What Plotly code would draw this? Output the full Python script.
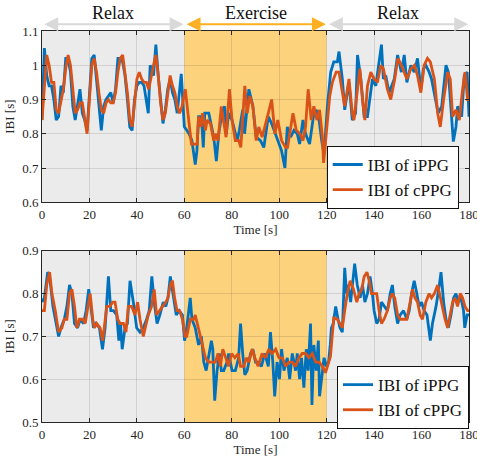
import plotly.graph_objects as go
from plotly.subplots import make_subplots

# ---------------- data ----------------
top_cppg_t = [0,1,2,3,4,5,6,7,8,9,10,11,12,13,14,15,16,17,18,19,20,21,22,23,24,25,26,27,28,29,30,
              31,32,33,34,35,36,37,38,39,40,41,42,43,44,45,46,47,48,49,50,51,52,53,54,55,56,57,58,59,60,
              60.4,62.5,63,65.4,66,67,67.7,68.9,69.6,71,72.4,73.1,74.2,75.6,76.6,77.6,79,80.1,81.5,83,83.8,
              84.4,85.5,86.5,87.6,88.9,90.3,91.4,92.8,95.4,96.8,98.2,99.4,101,102.7,103.5,104.4,105.8,107.2,
              108.7,110,111.1,112.2,113.5,114.6,115.9,117,118.2,118.7,120.4,121.3,122.4,124,125.2,126.6,127.6,
              129.4,130.8,131.5,133,134,135.1,136.1,137.2,138.6,140,141.4,142.8,143.9,145.6,147,148.7,150,
              151.5,152.7,153.8,155.5,157,158.3,159.7,161.1,162.5,163.7,165.4,166.8,167.9,169.3,171,172.1,
              173.1,174.5,175.9,177.3,178.3,179.4,180]
top_cppg_v = [0.84,0.95,1.03,1.00,0.95,0.95,0.87,0.86,0.90,0.93,0.99,1.03,1.00,0.93,0.86,0.87,0.89,0.89,0.85,0.80,0.90,
              1.00,1.02,0.98,0.92,0.87,0.86,0.89,0.90,0.89,0.89,0.92,0.98,1.02,1.03,0.98,0.92,0.84,0.82,0.89,0.96,
              0.98,0.96,0.95,0.95,0.93,0.97,1.00,1.03,0.97,0.89,0.84,0.86,0.92,0.97,0.94,0.92,0.88,0.86,0.88,0.92,
              0.93,0.80,0.77,0.77,0.85,0.82,0.86,0.81,0.84,0.83,0.78,0.80,0.78,0.88,0.84,0.79,0.93,0.84,0.78,0.78,0.76,
              0.83,0.94,0.86,0.91,0.88,0.78,0.82,0.79,0.86,0.90,0.80,0.84,0.78,0.76,0.76,0.80,0.86,0.81,
              0.80,0.78,0.82,0.93,0.84,0.88,0.84,0.87,0.79,0.715,0.86,0.91,0.95,0.98,0.98,0.92,0.88,
              0.96,0.86,0.84,0.94,0.99,0.90,0.84,0.94,0.98,0.96,0.95,1.00,0.99,0.93,0.90,0.96,1.02,
              1.00,0.98,0.96,0.99,1.00,0.97,0.92,1.00,1.02,1.01,0.96,0.86,0.82,0.90,0.98,0.96,
              0.85,0.87,0.84,0.93,0.98,0.90,0.90]

top_ippg_t = [0,1,2,3,4,5,6,7,8,9,10,11,12,13,14,15,16,17,18,19,20,21,22,23,24,25,26,27,28,29,30,
              31,32,33,34,35,36,37,38,39,40,41,42,43,44.8,45.6,47,48,49,50,51,52,53,54,55,56,57,58.7,59.5,60,
              62,63.2,64.6,65.3,66,67.2,68,68.6,70.3,71.4,72.4,73.5,74.5,75.9,77,77.7,78.7,80.1,81.5,82.3,83.2,
              84.6,85.4,87.2,87.9,88.9,90.3,92.1,93.5,95.4,96.8,98.5,101,102.4,103.4,104.8,106.2,107.6,108.6,
              110,111.1,112.8,114.6,115.6,116.8,117.9,118.9,120.3,121.7,123,124.5,125.2,126.6,127.6,129.4,
              130.8,132.2,133,134.4,135.8,137.2,139.3,140.7,143.1,143.9,144.9,146.3,148.5,149.9,151.5,152.7,
              153.8,155.5,156.9,158.3,159.7,160.8,161.8,163.2,164.2,165.8,167,168.5,170.3,171.3,173.4,174.5,
              175.2,176.9,178,179.2,180]
top_ippg_v = [0.84,1.05,0.97,0.94,0.94,0.90,0.84,0.85,0.94,0.92,1.02,1.02,0.98,0.88,0.84,0.88,0.93,0.86,0.84,0.81,0.93,
              1.02,1.03,0.96,0.90,0.81,0.88,0.90,0.91,0.92,0.89,0.93,1.02,1.02,1.01,0.97,0.90,0.82,0.81,0.90,0.94,
              0.95,0.95,0.94,0.86,1.00,0.97,1.06,0.97,0.90,0.83,0.87,0.93,0.96,0.92,0.90,0.86,0.975,0.86,0.82,
              0.80,0.78,0.71,0.75,0.85,0.85,0.76,0.86,0.86,0.82,0.79,0.72,0.80,0.86,0.88,0.80,0.86,0.84,0.80,0.78,0.81,
              0.87,0.80,0.93,0.91,0.88,0.79,0.78,0.76,0.85,0.83,0.80,0.75,0.70,0.82,0.79,0.81,0.80,0.77,
              0.84,0.80,0.77,0.86,0.87,0.84,0.78,0.74,0.88,0.98,1.01,1.01,1.04,0.96,0.87,0.95,
              0.84,0.86,1.03,0.96,0.85,0.85,0.96,0.94,1.06,0.96,0.97,0.92,0.96,1.03,0.98,1.03,
              0.95,1.00,0.98,1.02,0.93,0.99,1.00,0.98,0.96,0.90,0.86,0.88,1.00,0.98,0.777,0.82,
              0.88,0.85,0.97,0.98,0.85]

bot_cppg_t = [0,1,2,3.2,4.2,5.6,7,8.4,9.4,10.5,11.6,12.6,13.7,14.7,15.8,17.2,18.2,19.6,20.3,21.4,22.1,23.1,24.5,
              25.6,26.6,27.3,28.7,29.8,30.8,31.9,32.9,34.3,35.4,36.4,37.8,39.2,40.3,41.3,42.7,43.8,44.8,46.2,
              47.3,48.3,49.4,50.8,52.2,53.1,54.1,55,55.9,56.9,58,59.2,60.3,61,62.5,63.9,64.6,65.8,66.8,67.7,
              68.9,70.3,71.7,73.1,74.2,75.2,76.2,77.3,78.7,79.9,81.3,82.7,83.7,85.1,86.1,87.2,88.6,89.7,91.1,
              92.8,94.2,95.6,97,98.5,99.9,101.3,102.7,104.1,105.5,106.9,108.3,109.7,111.1,112.5,113.9,115.4,
              116.8,118.2,119.5,121.6,123,124.5,125.6,126.6,127.6,128.7,129.9,131.3,132.7,133.7,134.8,135.8,
              137,137.9,138.9,140,141.1,142.1,143.1,144.2,145.6,146.8,147.7,148.7,149.9,151,152.4,153.8,155.2,
              156.2,157.2,158.3,159.4,160.4,161.8,163.2,164.2,165.4,166.8,167.9,168.9,169.9,171,172.1,173.1,
              174.1,175.2,176.3,177.3,178.3,179.4,180]
bot_cppg_v = [0.76,0.76,0.82,0.85,0.80,0.76,0.71,0.72,0.74,0.74,0.80,0.81,0.77,0.72,0.74,0.74,0.73,0.78,0.80,0.74,0.72,0.73,0.72,
              0.69,0.74,0.77,0.77,0.78,0.78,0.74,0.73,0.73,0.71,0.77,0.77,0.75,0.78,0.74,0.70,0.73,0.75,0.77,
              0.81,0.75,0.76,0.77,0.78,0.79,0.82,0.83,0.79,0.76,0.76,0.74,0.70,0.70,0.74,0.74,0.75,0.72,0.70,0.68,
              0.65,0.64,0.64,0.64,0.66,0.63,0.67,0.65,0.63,0.66,0.65,0.66,0.63,0.63,0.65,0.64,0.67,0.65,0.63,
              0.66,0.65,0.67,0.66,0.67,0.65,0.65,0.63,0.64,0.64,0.63,0.65,0.66,0.66,0.65,0.66,0.64,
              0.64,0.63,0.615,0.653,0.743,0.74,0.73,0.72,0.76,0.80,0.83,0.81,0.78,0.80,0.81,0.84,
              0.85,0.83,0.80,0.80,0.80,0.76,0.73,0.74,0.76,0.79,0.80,0.79,0.75,0.74,0.74,0.74,0.78,
              0.81,0.79,0.78,0.75,0.74,0.78,0.80,0.79,0.80,0.82,0.79,0.76,0.74,0.72,0.75,0.78,
              0.79,0.77,0.80,0.79,0.77,0.76,0.76]

bot_ippg_t = [0,1,2.4,3.2,4.6,6,7,8,9.4,10.5,11.6,12.6,13.7,15,16.1,17.5,18.6,19.7,20.7,21.7,22.8,24.2,25.5,26.6,
              28,29,30.1,31.5,32.4,33.1,33.8,35,36,37.1,38.5,39.9,41.3,42.7,44.1,45.2,46.3,47.3,48.5,49.7,51.1,
              52.2,53.1,54.1,55.2,56.6,57.8,59.2,60.1,61,62.5,63.2,64.6,66,67.2,68.2,69.2,70.3,71.4,72,72.8,
              73.8,74.8,75.6,76.6,78,78.7,80.1,81.5,82.9,83.7,84.6,85.5,86.5,87.9,88.9,90,91.1,92.5,93.9,95.4,
              96.3,97.3,98.1,99.1,100.1,101,102,103.4,104.4,105.5,106.9,107.6,108.6,109.4,110.4,111.4,112.2,
              113.2,113.8,114.6,115.6,116.5,117,118.2,118.9,119.9,120.8,121.5,122,122.8,123.8,124.8,125.6,126.6,
              127.6,128.4,129,130.1,131.3,131.8,132.9,134.1,135.1,136.1,137.2,138.3,139.3,140,141.1,142.1,
              143.1,144.2,145.6,146.8,147.7,148.7,149.9,151,152.4,153.8,154.8,155.8,156.9,158,159,160,161.1,
              162.3,163.7,164.6,166.1,167.5,168.2,169.3,170.3,171.3,172.4,173.5,174.5,175.5,176.6,177.7,178.2,
              179.2,180]
bot_ippg_v = [0.78,0.79,0.85,0.84,0.77,0.73,0.70,0.72,0.74,0.77,0.82,0.80,0.73,0.72,0.74,0.73,0.76,0.81,0.76,0.72,0.73,0.72,0.67,0.72,
              0.84,0.76,0.76,0.75,0.69,0.73,0.67,0.72,0.73,0.83,0.78,0.72,0.71,0.72,0.74,0.76,0.84,0.78,0.73,0.75,0.78,
              0.77,0.79,0.84,0.80,0.75,0.76,0.75,0.69,0.72,0.79,0.74,0.72,0.68,0.70,0.64,0.62,0.66,0.69,0.67,0.55,
              0.62,0.66,0.62,0.62,0.64,0.66,0.62,0.62,0.65,0.73,0.66,0.61,0.62,0.66,0.67,0.64,0.64,0.63,0.66,0.63,
              0.71,0.64,0.56,0.64,0.60,0.67,0.62,0.65,0.60,0.66,0.62,0.66,0.60,0.65,0.58,0.67,0.62,
              0.73,0.54,0.68,0.62,0.69,0.56,0.62,0.65,0.63,0.64,0.68,0.72,0.73,0.77,0.74,0.72,0.71,
              0.86,0.80,0.82,0.78,0.84,0.87,0.82,0.79,0.82,0.78,0.80,0.84,0.80,0.76,0.73,0.74,
              0.78,0.77,0.76,0.80,0.82,0.77,0.73,0.75,0.76,0.74,0.76,0.80,0.83,0.80,0.77,0.78,0.76,
              0.75,0.69,0.73,0.77,0.82,0.85,0.78,0.74,0.72,0.75,0.79,0.80,0.78,0.79,0.76,0.72,
              0.75,0.75]

x_ticks = [0, 20, 40, 60, 80, 100, 120, 140, 160, 180]
top_y_ticks = [0.6, 0.7, 0.8, 0.9, 1.0, 1.1]
top_y_labels = ["0.6", "0.7", "0.8", "0.9", "1", "1.1"]
bot_y_ticks = [0.5, 0.6, 0.7, 0.8, 0.9]
bot_y_labels = ["0.5", "0.6", "0.7", "0.8", "0.9"]
phases = [("Relax", 0, 60), ("Exercise", 60, 120), ("Relax", 120, 180)]

# ---------------- styling ----------------
BLUE = "#0072BD"
ORANGE = "#D95319"
BG = "#EBEBEB"
EXER = "#FDD27D"
GRAY_ARROW = "#D9D9D9"
ORANGE_ARROW = "#FDB022"
FONT = "Liberation Serif, Times New Roman, serif"
AX = "#262626"

fig = make_subplots(rows=2, cols=1, vertical_spacing=0.124)
fig.update_yaxes(domain=[0.562, 1.0], row=1, col=1)
fig.update_yaxes(domain=[0.0, 0.438], row=2, col=1)

fig.add_trace(go.Scatter(x=top_ippg_t, y=top_ippg_v, mode="lines", name="IBI of iPPG",
                         line=dict(color=BLUE, width=2.8), legend="legend"), row=1, col=1)
fig.add_trace(go.Scatter(x=top_cppg_t, y=top_cppg_v, mode="lines", name="IBI of cPPG",
                         line=dict(color=ORANGE, width=2.8), legend="legend"), row=1, col=1)
fig.add_trace(go.Scatter(x=bot_ippg_t, y=bot_ippg_v, mode="lines", name="IBI of iPPG",
                         line=dict(color=BLUE, width=2.8), legend="legend2"), row=2, col=1)
fig.add_trace(go.Scatter(x=bot_cppg_t, y=bot_cppg_v, mode="lines", name="IBI of cPPG",
                         line=dict(color=ORANGE, width=2.8), legend="legend2"), row=2, col=1)

for xr, yr in (("x", "y"), ("x2", "y2")):
    fig.add_shape(type="rect", xref=xr, yref=yr + " domain", x0=phases[1][1], x1=phases[1][2],
                  y0=0, y1=1, fillcolor=EXER, line=dict(width=0), layer="below")

axis_common = dict(showline=True, mirror="allticks", linecolor=AX, linewidth=1,
                   ticks="inside", ticklen=4, tickcolor=AX, showgrid=True, automargin=False,
                   gridcolor="rgba(0,0,0,0.11)", gridwidth=1, zeroline=False,
                   tickfont=dict(family=FONT, size=13, color=AX))
fig.update_xaxes(**axis_common, range=[0, 180], tickvals=x_ticks, ticklabeloverflow="allow",
                 title=dict(text="Time [s]", font=dict(family=FONT, size=13, color=AX), standoff=2))
fig.update_yaxes(**axis_common,
                 title=dict(text="IBI [s]", font=dict(family=FONT, size=13, color=AX), standoff=4))
fig.update_yaxes(range=[0.6, 1.1], tickvals=top_y_ticks, ticktext=top_y_labels, row=1, col=1)
fig.update_yaxes(range=[0.5, 0.9], tickvals=bot_y_ticks, ticktext=bot_y_labels, row=2, col=1)

# phase labels and arrows
for name, a, b in phases:
    col = ORANGE_ARROW if name == "Exercise" else GRAY_ARROW
    fig.add_annotation(x=b - 0.3, y=1.04, xref="x", yref="y domain", ax=a + 0.3, ay=1.04,
                       axref="x", ayref="y domain", showarrow=True, arrowside="end+start",
                       arrowhead=2, arrowsize=1.4, arrowwidth=2, arrowcolor=col, text="")
    fig.add_annotation(x=(a + b) / 2, y=1.103, xref="x", yref="y domain", text=name,
                       showarrow=False, yanchor="middle",
                       font=dict(family=FONT, size=18, color="#111111"))

legend_common = dict(bgcolor="white", bordercolor="#111111", borderwidth=1,
                     font=dict(family=FONT, size=17, color="#111111"),
                     xanchor="right", yanchor="top", tracegroupgap=0, itemwidth=30)
fig.update_layout(
    width=477, height=459,
    margin=dict(l=42, r=8, t=31, b=37, autoexpand=False),
    plot_bgcolor=BG, paper_bgcolor="white",
    legend=dict(**legend_common, x=0.976, y=0.706, xref="paper", yref="paper"),
    legend2=dict(**legend_common, x=1.0, y=0.143, xref="paper", yref="paper"),
    showlegend=True,
)

fig.write_html("out.html", config={"displayModeBar": False},
               post_script="document.body.style.margin='0';document.body.style.padding='0';")
